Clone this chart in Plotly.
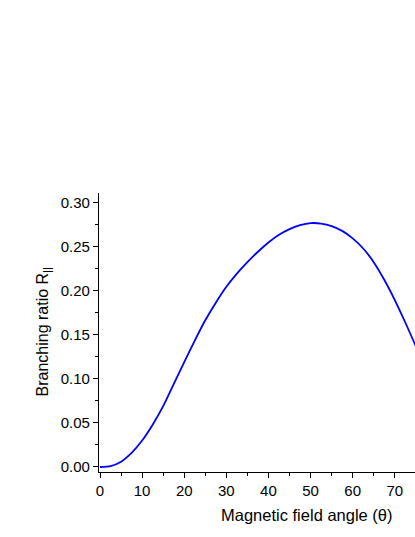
import plotly.graph_objects as go

# magnetic field angle (deg) and branching ratio
angle = [0, 2.5, 5, 7.5, 10, 12.5, 15, 17.5, 20, 22.5, 25, 27.5, 30, 32.5, 35,
         37.5, 40, 42.5, 45, 47.5, 50, 52.5, 55, 57.5, 60, 62.5, 65, 67.5, 70,
         72.5, 75]
ratio = [0.0, 0.001, 0.006, 0.016, 0.030, 0.048, 0.069, 0.094, 0.119, 0.1435,
         0.1665, 0.1865, 0.2045, 0.2195, 0.2325, 0.2443, 0.2548, 0.2635, 0.2700,
         0.2744, 0.2768, 0.2763, 0.2735, 0.268, 0.2595, 0.248, 0.2325, 0.2125,
         0.1895, 0.164, 0.137]

font = "Liberation Sans, Arial, sans-serif"

fig = go.Figure()
fig.add_trace(go.Scatter(x=angle, y=ratio, mode="lines", hoverinfo="skip",
                         line=dict(color="#0000ff", width=1.8, shape="spline",
                                   smoothing=0.6)))

axis_common = dict(showline=True, linecolor="black", linewidth=1.3,
                   ticks="outside", ticklen=5, tickwidth=1.2, tickcolor="black",
                   showgrid=False, zeroline=False,
                   tickfont=dict(family=font, size=15, color="black"))

fig.update_xaxes(range=[-0.24, 74.8], dtick=10, tick0=0,
                 minor=dict(ticks="outside", ticklen=3, dtick=5, tickcolor="black"),
                 **axis_common)
fig.update_yaxes(range=[-0.0057, 0.311], dtick=0.05, tick0=0, tickformat=".2f",
                 minor=dict(ticks="outside", ticklen=3, dtick=0.025, tickcolor="black"),
                 **axis_common)

fig.add_annotation(text="Magnetic field angle (θ)", xref="paper", yref="paper",
                   x=(307 - 99) / 316, y=-(515 - 472) / 279,
                   xanchor="center", yanchor="middle", showarrow=False,
                   font=dict(family=font, size=16.5, color="black"))
fig.add_annotation(text="Branching ratio R<sub>||</sub>", xref="paper", yref="paper",
                   x=-(99 - 43) / 316, y=0.5, xanchor="center", yanchor="middle",
                   textangle=-90, showarrow=False,
                   font=dict(family=font, size=16, color="black"))

fig.update_layout(width=415, height=537, showlegend=False,
                  margin=dict(l=99, r=0, t=193, b=65),
                  plot_bgcolor="white", paper_bgcolor="white")

fig.write_html("out.html", config={"displayModeBar": False},
               post_script="document.body.style.margin='0';document.body.style.overflow='hidden';")
